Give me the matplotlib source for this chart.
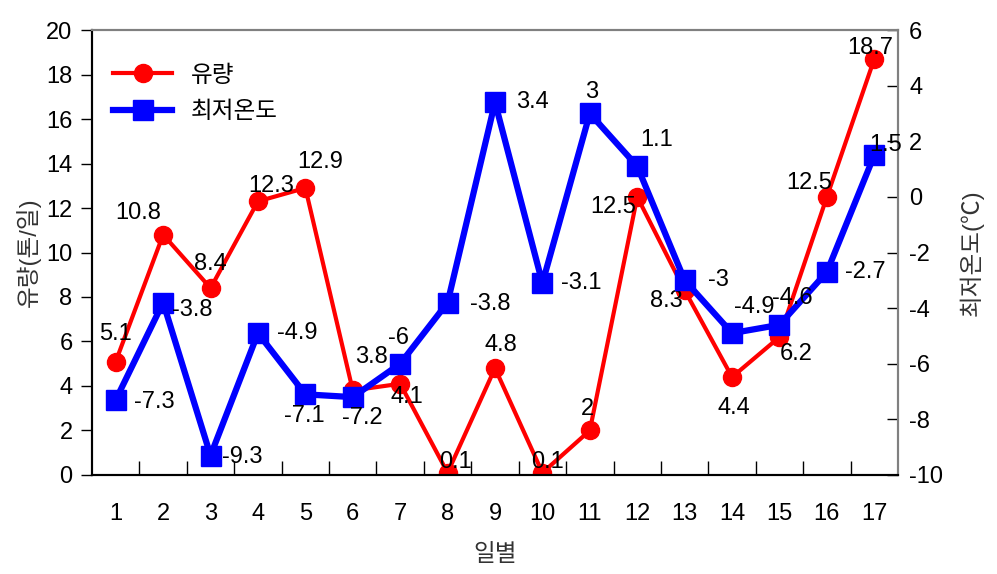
import matplotlib
matplotlib.use("Agg")
import matplotlib.pyplot as plt
import numpy as np

days = list(range(1, 18))
flow = [5.1, 10.8, 8.4, 12.3, 12.9, 3.8, 4.1, 0.1, 4.8, 0.1, 2, 12.5, 8.3, 4.4, 6.2, 12.5, 18.7]
temp = [-7.3, -3.8, -9.3, -4.9, -7.1, -7.2, -6, -3.8, 3.4, -3.1, 3, 1.1, -3, -4.9, -4.6, -2.7, 1.5]
flow_labels = ["5.1", "10.8", "8.4", "12.3", "12.9", "3.8", "4.1", "0.1", "4.8", "0.1", "2",
               "12.5", "8.3", "4.4", "6.2", "12.5", "18.7"]
temp_labels = ["-7.3", "-3.8", "-9.3", "-4.9", "-7.1", "-7.2", "-6", "-3.8", "3.4", "-3.1", "3",
               "1.1", "-3", "-4.9", "-4.6", "-2.7", "1.5"]

# label offsets in pixels (dx, dy) -- moved by hand like in the original
flow_off = [(0, 28), (-25, 22), (0, 24), (13, 15), (15, 26), (19, 33), (7, -13), (8, 11), (6, 23),
            (5, 11), (-2, 21), (-24, -10), (-18, -11), (2, -31), (17, -17), (-18, 14), (-4, 11)]
temp_off = [(39, -2), (29, -7), (32, -1), (39, 0), (-1, -22), (10, -21), (-2, 26), (43, -1), (37, 0),
            (39, 0), (2, 21), (19, 26), (34, 0), (22, 26), (13, 27), (38, 0), (11, 10)]

plt.rcParams['font.family'] = ['Liberation Sans', 'Noto Sans CJK KR', 'DejaVu Sans']
plt.rcParams['font.size'] = 17
plt.rcParams['axes.unicode_minus'] = False

fig = plt.figure(figsize=(9.97, 5.74), dpi=100)
ax = fig.add_axes([0.0923, 0.1725, 0.8084, 0.7752])
ax2 = ax.twinx()

l1, = ax.plot(days, flow, color="#ff0000", lw=3, marker="o", markersize=13, label="유량")
l2, = ax2.plot(days, temp, color="#0000ff", lw=4.5, marker="s", markersize=14, label="최저온도")

for x, y, s, o in zip(days, flow, flow_labels, flow_off):
    ax.annotate(s, (x, y), xytext=o, textcoords="offset pixels", ha="center", va="center", fontsize=17)
for x, y, s, o in zip(days, temp, temp_labels, temp_off):
    ax2.annotate(s, (x, y), xytext=o, textcoords="offset pixels", ha="center", va="center", fontsize=17)

ax.set_xlim(0.5, 17.5)
ax.set_ylim(0, 20)
ax2.set_ylim(-10, 6)
ax.set_yticks(np.arange(0, 21, 2))
ax2.set_yticks(np.arange(-10, 7, 2))
ax.set_xticks(days)
ax.set_xticks(np.arange(1.5, 17, 1), minor=True)
ax.tick_params(axis="x", which="major", length=0, pad=20)
ax.tick_params(axis="x", which="minor", direction="in", length=10, width=1)
ax.tick_params(axis="y", direction="out", length=8, width=1, pad=6)
ax2.tick_params(axis="y", direction="in", length=8, width=1, pad=8, colors="black")

for a in (ax, ax2):
    a.spines["top"].set_color("#808080")
    a.spines["right"].set_color("#808080")
    a.spines["top"].set_linewidth(1.5)
    a.spines["right"].set_linewidth(1.5)
    a.spines["left"].set_linewidth(1.5)
    a.spines["bottom"].set_linewidth(1.5)

ax.set_xlabel("일별", labelpad=14, color="#333333")
ax.set_ylabel("유량(톤/일)", labelpad=4, color="#333333")
ax2.set_ylabel("최저온도(℃)", labelpad=12, color="#333333")

ax.legend(handles=[l1, l2], loc="upper left", frameon=False, fontsize=17,
          bbox_to_anchor=(0.0, 0.97), handlelength=2.5, labelspacing=0.6)

fig.savefig("out.png", dpi=100)
